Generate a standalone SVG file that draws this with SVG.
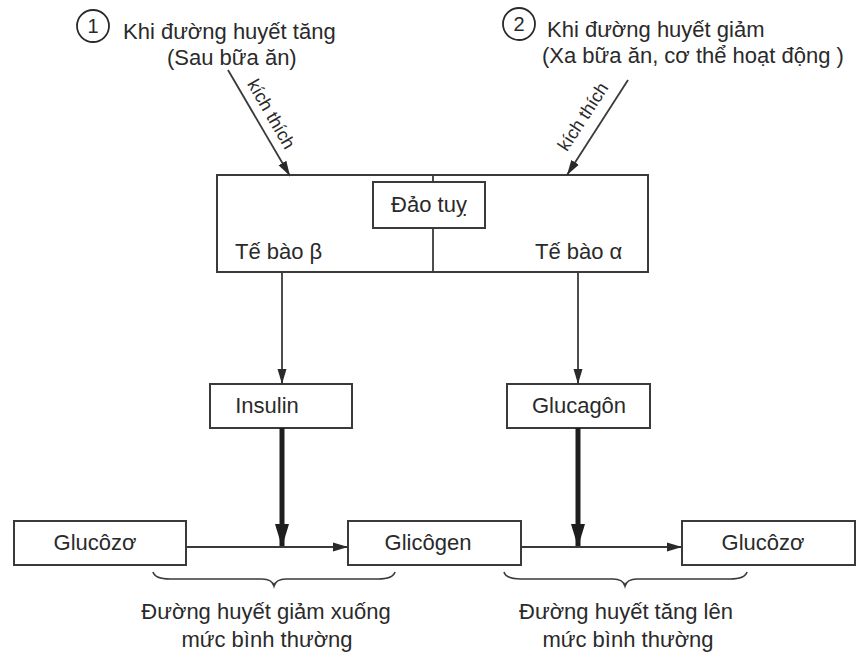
<svg xmlns="http://www.w3.org/2000/svg" width="861" height="657" viewBox="0 0 861 657">
<defs>
<style>
text{font-family:"Liberation Sans",Arial,sans-serif;font-size:22px;fill:#2a2a2a}
.box{fill:#fff;stroke:#3a3a3a;stroke-width:2}
.ln{stroke:#3a3a3a;stroke-width:1.8;fill:none}
.thick{stroke:#1e1e1e;stroke-width:5;fill:none}
.brace{stroke:#3a3a3a;stroke-width:1.6;fill:none}
.mid{text-anchor:middle}
.small{font-size:18px}
</style>
<marker id="ah" markerUnits="userSpaceOnUse" markerWidth="16" markerHeight="10" refX="15" refY="5" orient="auto">
<path d="M0,0.5 L15,5 L0,9.5 Z" fill="#2a2a2a"/>
</marker>
<marker id="ahb" markerUnits="userSpaceOnUse" markerWidth="24" markerHeight="14" refX="23" refY="7" orient="auto">
<path d="M0,0 L23,7 L0,14 Z" fill="#1e1e1e"/>
</marker>
</defs>
<rect width="861" height="657" fill="#fff"/>

<g id="cond1">
<circle cx="93" cy="26" r="16" fill="none" stroke="#2a2a2a" stroke-width="1.8"/>
<text x="93" y="33" class="mid" style="font-size:20px">1</text>
<text x="123" y="39">Khi đường huyết tăng</text>
<text x="167" y="65">(Sau bữa ăn)</text>
</g>

<g id="cond2">
<circle cx="519" cy="24" r="16" fill="none" stroke="#2a2a2a" stroke-width="1.8"/>
<text x="519" y="31" class="mid" style="font-size:20px">2</text>
<text x="547" y="37">Khi đường huyết giảm</text>
<text x="542" y="63">(Xa bữa ăn, cơ thể hoạt động )</text>
</g>

<g id="pancreas">
<rect class="box" x="217" y="175" width="431" height="97"/>
<line class="ln" x1="433" y1="175" x2="433" y2="182"/>
<line class="ln" x1="433" y1="228" x2="433" y2="272"/>
<text x="235" y="259">Tế bào β</text>
<text x="535" y="259">Tế bào α</text>
</g>

<g id="daotuy">
<rect class="box" x="373" y="182" width="112" height="46"/>
<text x="429" y="212" class="mid">Đảo tuỵ</text>
</g>

<g id="insulin">
<rect class="box" x="210" y="384" width="142" height="44"/>
<text x="267" y="413" class="mid">Insulin</text>
</g>

<g id="glucagon">
<rect class="box" x="507" y="384" width="143" height="44"/>
<text x="579" y="413" class="mid">Glucagôn</text>
</g>

<g id="glucozo1">
<rect class="box" x="14" y="521" width="172" height="44"/>
<text x="95" y="550" class="mid">Glucôzơ</text>
</g>

<g id="glicogen">
<rect class="box" x="348" y="521" width="173" height="44"/>
<text x="428" y="550" class="mid">Glicôgen</text>
</g>

<g id="glucozo2">
<rect class="box" x="682" y="521" width="173" height="44"/>
<text x="763" y="550" class="mid">Glucôzơ</text>
</g>

<g id="connectors">
<line class="ln" x1="228" y1="70" x2="290" y2="176" marker-end="url(#ah)"/>
<line class="ln" x1="628" y1="80" x2="567" y2="175" marker-end="url(#ah)"/>
<line class="ln" x1="282" y1="272" x2="282" y2="384" marker-end="url(#ah)"/>
<line class="ln" x1="578" y1="272" x2="578" y2="384" marker-end="url(#ah)"/>
<line class="thick" x1="282" y1="428" x2="282" y2="547" marker-end="url(#ahb)"/>
<line class="thick" x1="578" y1="428" x2="578" y2="547" marker-end="url(#ahb)"/>
<line class="ln" x1="186" y1="547" x2="348" y2="547" marker-end="url(#ah)"/>
<line class="ln" x1="521" y1="547" x2="682" y2="547" marker-end="url(#ah)"/>
<text class="small mid" transform="translate(266,117) rotate(60)">kích thích</text>
<text class="small mid" transform="translate(588,120) rotate(-57)">kích thích</text>
</g>

<g id="brace1">
<path class="brace" d="M153,572 Q155,579 170,579 L262,579 Q272,579 274,586 Q276,579 286,579 L378,579 Q393,579 395,572"/>
<text x="266" y="619" class="mid">Đường huyết giảm xuống</text>
<text x="267" y="647" class="mid">mức bình thường</text>
</g>

<g id="brace2">
<path class="brace" d="M504,572 Q506,579 521,579 L613,579 Q623,579 625,586 Q627,579 637,579 L730,579 Q745,579 747,572"/>
<text x="626" y="619" class="mid">Đường huyết tăng lên</text>
<text x="628" y="647" class="mid">mức bình thường</text>
</g>
</svg>
